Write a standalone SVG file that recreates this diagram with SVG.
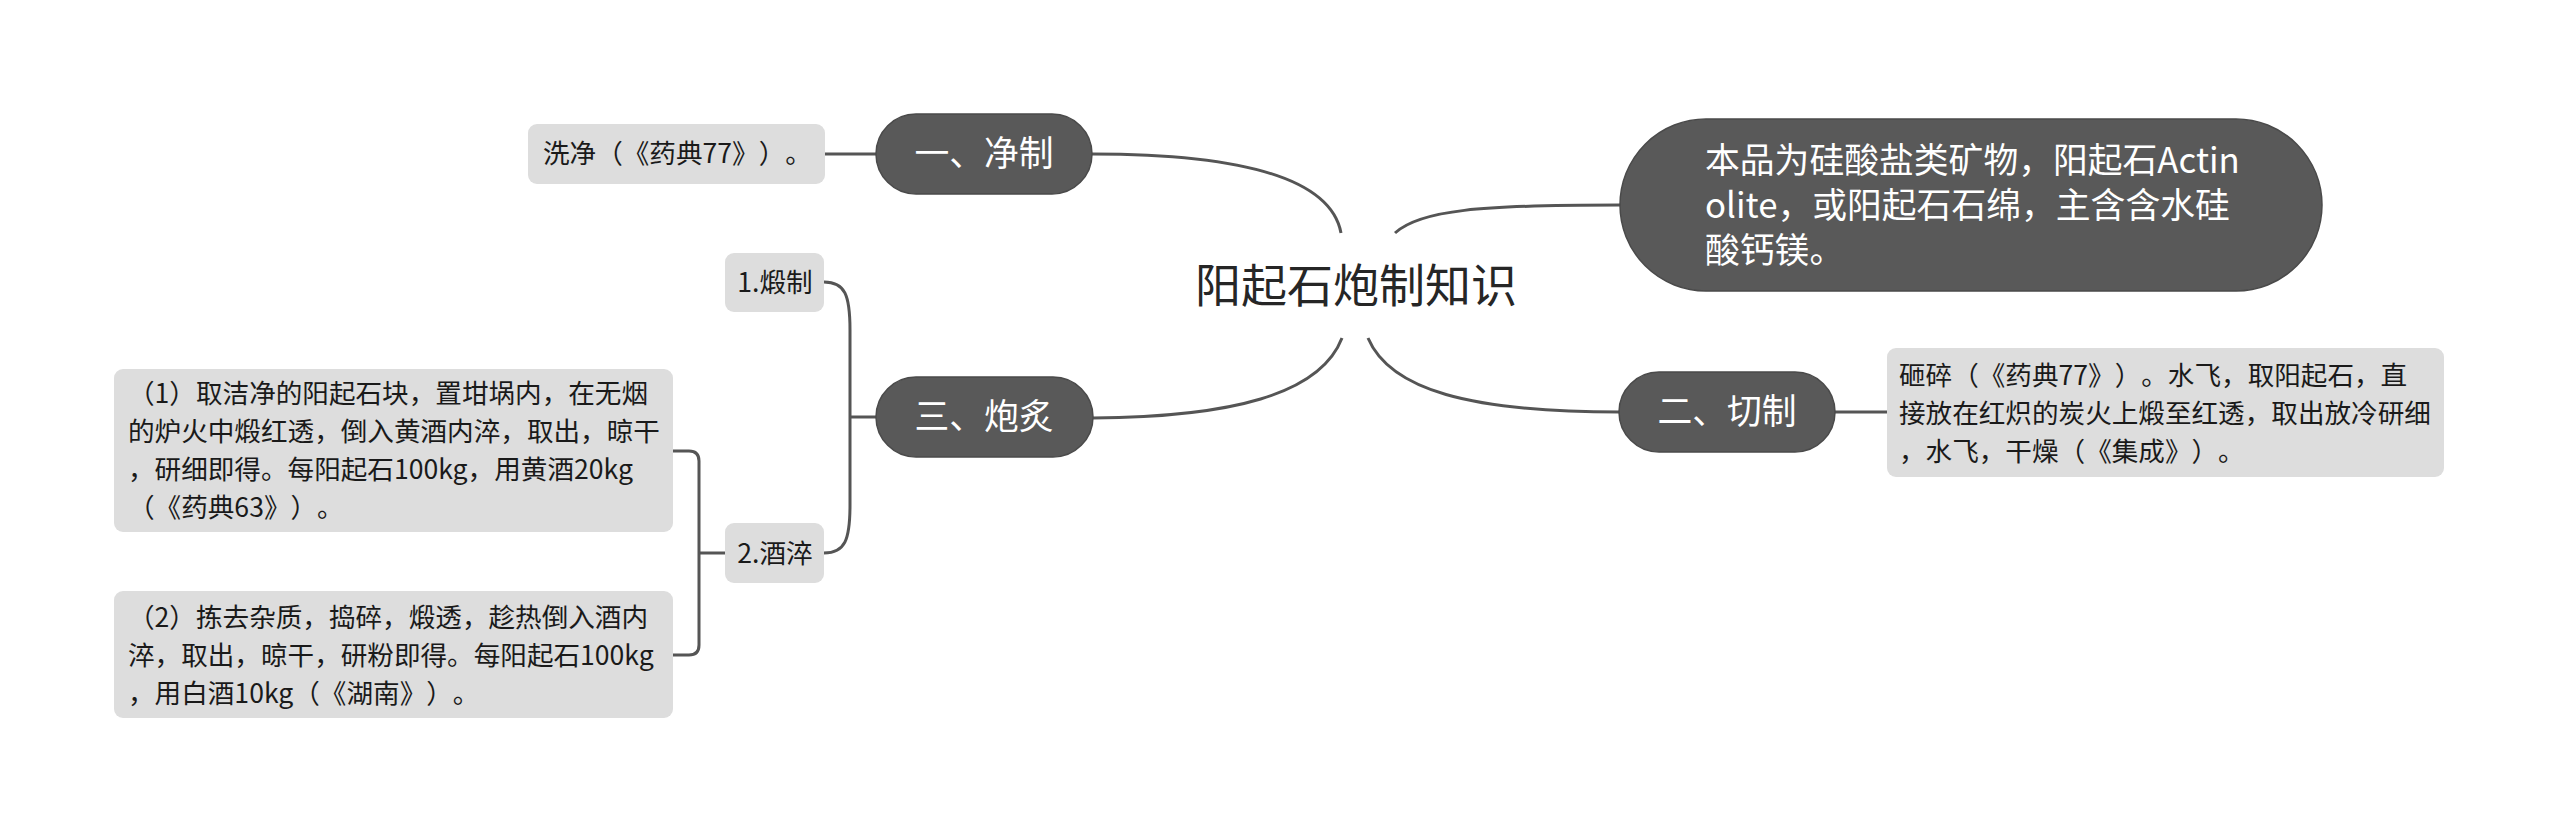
<svg xmlns="http://www.w3.org/2000/svg" width="2560" height="835" viewBox="0 0 2560 835">
<style>
text{font-family:"Noto Sans CJK SC","Noto Sans",sans-serif;text-spacing-trim:space-all;font-feature-settings:"halt" 0,"chws" 0,"palt" 0}
.pill{fill:#595959;stroke:#4a4a4a;stroke-width:1.5}
.box{fill:#dddddd}
.pt{fill:#ffffff;font-size:34.8px}
.bt{fill:#1a1a1a;font-size:26.6px}
.ct{fill:#262626;font-size:46px}
.ln{fill:none;stroke:#555555;stroke-width:3}
</style>
<rect width="2560" height="835" fill="#ffffff"/>
<g id="connectors">
<path class="ln" d="M825 154 L876 154"/>
<path class="ln" d="M1092 154 C1230 154 1330 175 1341 233"/>
<path class="ln" d="M1395 233 C1420 210 1480 205 1620 205"/>
<path class="ln" d="M1342 338 C1320 395 1230 417 1093 418"/>
<path class="ln" d="M1368 338 C1390 390 1470 412 1620 412"/>
<path class="ln" d="M1835 412 L1887 412"/>
<path class="ln" d="M876 417 L850 417"/>
<path class="ln" d="M824 282 C845 282 850 295 850 330 L850 505 C850 540 845 553 824 553"/>
<path class="ln" d="M725 553 L699 553"/>
<path class="ln" d="M673 451 L689 451 Q699 451 699 461 L699 645 Q699 655 689 655 L673 655"/>
</g>
<g id="central">
<text class="ct" x="1356" y="302" text-anchor="middle">阳起石炮制知识</text>
</g>
<g id="n1">
<rect class="pill" x="876" y="114" width="216" height="80" rx="40"/>
<text class="pt" x="984" y="166" text-anchor="middle">一、净制</text>
</g>
<g id="n1a">
<rect class="box" x="528" y="124" width="297" height="60" rx="9"/>
<text class="bt" x="543" y="163">洗净（《药典77》）。</text>
</g>
<g id="n2">
<rect class="pill" x="1620" y="119" width="702" height="172" rx="86"/>
<text class="pt" x="1705" y="173">本品为硅酸盐类矿物，阳起石Actin</text>
<text class="pt" x="1705" y="218">olite，或阳起石石绵，主含含水硅</text>
<text class="pt" x="1705" y="263">酸钙镁。</text>
</g>
<g id="n3">
<rect class="pill" x="1619" y="372" width="216" height="80" rx="40"/>
<text class="pt" x="1727" y="424" text-anchor="middle">二、切制</text>
</g>
<g id="n3a">
<rect class="box" x="1887" y="348" width="557" height="129" rx="9"/>
<text class="bt" x="1899" y="385">砸碎（《药典77》）。水飞，取阳起石，直</text>
<text class="bt" x="1899" y="423">接放在红炽的炭火上煅至红透，取出放冷研细</text>
<text class="bt" x="1899" y="461">，水飞，干燥（《集成》）。</text>
</g>
<g id="n4">
<rect class="pill" x="876" y="377" width="217" height="80" rx="40"/>
<text class="pt" x="984" y="429" text-anchor="middle">三、炮炙</text>
</g>
<g id="n4a">
<rect class="box" x="725" y="253" width="99" height="59" rx="9"/>
<text class="bt" x="775" y="292" text-anchor="middle">1.煅制</text>
</g>
<g id="n4b">
<rect class="box" x="725" y="523" width="99" height="60" rx="9"/>
<text class="bt" x="775" y="563" text-anchor="middle">2.酒淬</text>
</g>
<g id="n4b1">
<rect class="box" x="114" y="369" width="559" height="163" rx="9"/>
<text class="bt" x="128" y="403">（1）取洁净的阳起石块，置坩埚内，在无烟</text>
<text class="bt" x="128" y="441">的炉火中煅红透，倒入黄酒内淬，取出，晾干</text>
<text class="bt" x="128" y="479">，研细即得。每阳起石100kg，用黄酒20kg</text>
<text class="bt" x="128" y="517">（《药典63》）。</text>
</g>
<g id="n4b2">
<rect class="box" x="114" y="591" width="559" height="127" rx="9"/>
<text class="bt" x="128" y="627">（2）拣去杂质，捣碎，煅透，趁热倒入酒内</text>
<text class="bt" x="128" y="665">淬，取出，晾干，研粉即得。每阳起石100kg</text>
<text class="bt" x="128" y="703">，用白酒10kg（《湖南》）。</text>
</g>
</svg>
